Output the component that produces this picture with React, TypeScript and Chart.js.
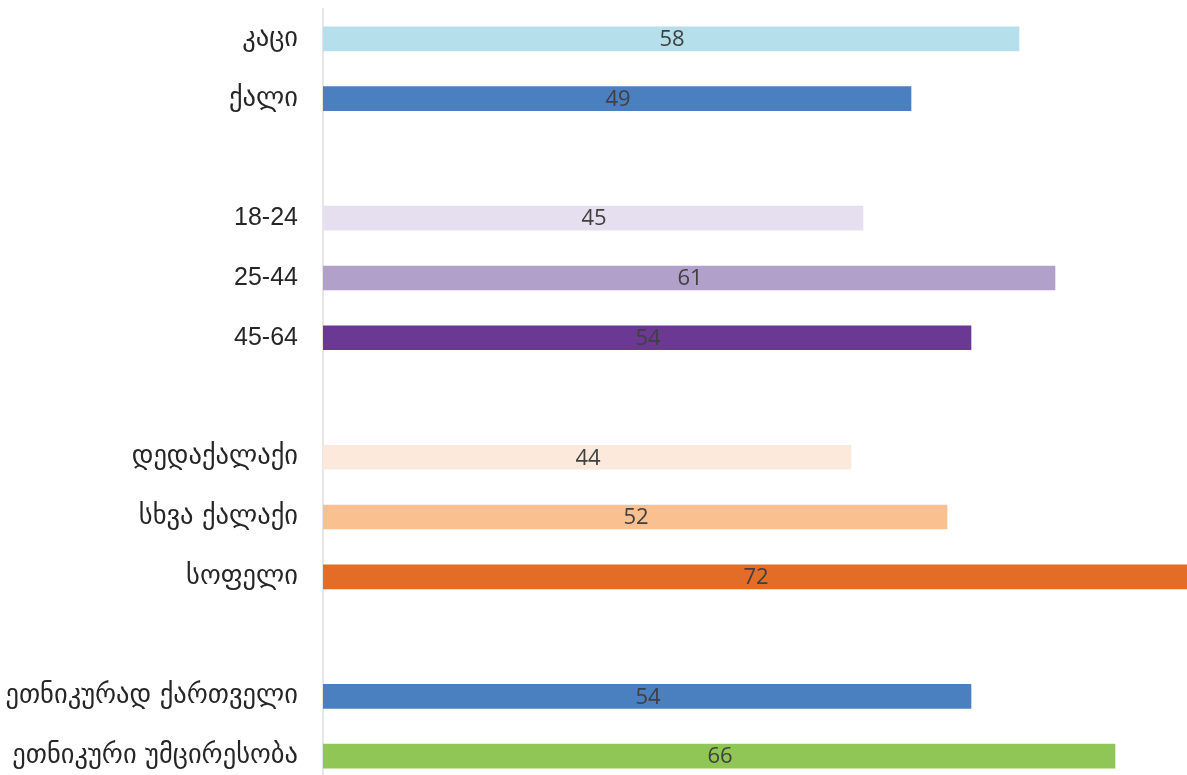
import React, { useEffect, useRef } from "react";
import { Chart, registerables } from "chart.js";

Chart.register(...registerables);

const categories: string[] = [
  "კაცი",
  "ქალი",
  "",
  "18-24",
  "25-44",
  "45-64",
  "",
  "დედაქალაქი",
  "სხვა ქალაქი",
  "სოფელი",
  "",
  "ეთნიკურად ქართველი",
  "ეთნიკური უმცირესობა",
];

const values: (number | null)[] = [58, 49, null, 45, 61, 54, null, 44, 52, 72, null, 54, 66];

const barColors: string[] = [
  "#b4dfeb",
  "#4a7fc0",
  "#ffffff",
  "#e6dfef",
  "#b1a1ca",
  "#6b3894",
  "#ffffff",
  "#fce9dc",
  "#fbc08f",
  "#e36c26",
  "#ffffff",
  "#4a7fc0",
  "#8fc655",
];

const xMin = 0;
const xMax = 72;

const valueLabelPlugin = {
  id: "valueLabels",
  afterDatasetsDraw(chart: any) {
    const ctx = chart.ctx;
    const meta = chart.getDatasetMeta(0);
    const data = chart.data.datasets[0].data;
    ctx.save();
    ctx.font = "22px 'Open Sans', 'Liberation Sans', sans-serif";
    ctx.fillStyle = "#404040";
    ctx.textAlign = "center";
    ctx.textBaseline = "middle";
    meta.data.forEach((el: any, i: number) => {
      const v = data[i];
      if (v === null || v === undefined) return;
      const cx = (el.x + el.base) / 2;
      ctx.fillText(String(v), cx + 1, el.y + 1);
    });
    ctx.restore();
  },
};

export default function App() {
  const canvasRef = useRef<HTMLCanvasElement | null>(null);

  useEffect(() => {
    document.body.style.margin = "0";
    document.body.style.overflow = "hidden";
    const canvas = canvasRef.current;
    if (!canvas) return;
    const chart = new Chart(canvas, {
      type: "bar",
      data: {
        labels: categories,
        datasets: [
          {
            data: values,
            backgroundColor: barColors,
            borderWidth: 0,
            barThickness: 24,
          },
        ],
      },
      options: {
        indexAxis: "y",
        animation: false,
        responsive: true,
        maintainAspectRatio: false,
        layout: { padding: { top: 9, bottom: 0, left: 0, right: 0 } },
        plugins: {
          legend: { display: false },
          tooltip: { enabled: false },
        },
        scales: {
          x: {
            display: false,
            min: xMin,
            max: xMax,
          },
          y: {
            grid: { display: false, drawTicks: true, tickLength: 25 },
            border: { display: true, color: "#e6e6e6", width: 2 },
            ticks: {
              padding: 0,
              color: "#262626",
              autoSkip: false,
              font: (c: any) => {
                const lbl = categories[c.index] || "";
                const isNum = /^[0-9-]+$/.test(lbl);
                return {
                  family: isNum ? "'Liberation Sans', Arial, sans-serif" : "'DejaVu Sans', sans-serif",
                  size: isNum ? 25 : 26.5,
                };
              },
            },
            afterFit: (scale: any) => {
              scale.width = 323;
              scale.paddingTop = 0;
              scale.paddingBottom = 0;
            },
          },
        },
      },
      plugins: [valueLabelPlugin],
    });
    return () => chart.destroy();
  }, []);

  return (
    <div style={{ width: 1187, height: 775, overflow: "hidden", position: "relative", background: "#fff" }}>
      <div style={{ position: "absolute", left: 0, top: 0, width: 1187, height: 786 }}>
        <canvas ref={canvasRef} />
      </div>
    </div>
  );
}
